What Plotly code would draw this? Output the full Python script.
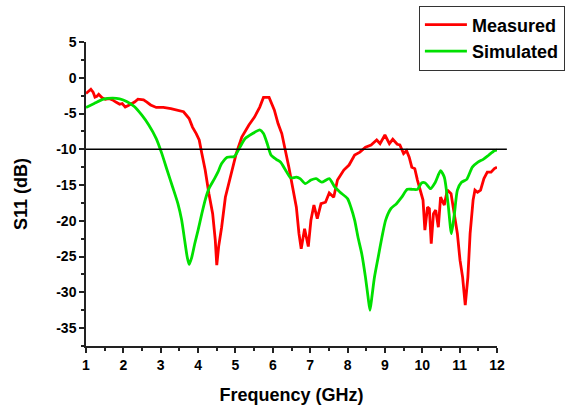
import plotly.graph_objects as go

# Measured S11 (red)
meas_freq = [1.0, 1.06, 1.13, 1.19, 1.24, 1.29, 1.34, 1.43, 1.52, 1.61, 1.71, 1.8, 1.9, 1.97, 2.05, 2.12, 2.2, 2.3, 2.39, 2.54, 2.63, 2.73,
             2.88, 3.07, 3.27, 3.46, 3.61, 3.76, 3.85, 3.95, 4.03, 4.1, 4.19, 4.29, 4.39, 4.46, 4.5, 4.55, 4.63,
             4.73, 4.88, 5.02, 5.17, 5.36, 5.51, 5.65, 5.75, 5.9, 6.04, 6.14, 6.24, 6.34, 6.43, 6.53, 6.63,
             6.7, 6.76, 6.85, 6.95, 7.02, 7.1, 7.19, 7.29, 7.41, 7.51, 7.63, 7.73, 7.9, 8.04, 8.19, 8.33,
             8.48, 8.63, 8.78, 8.87, 9.0, 9.12, 9.21, 9.33, 9.4, 9.5, 9.58, 9.65, 9.72, 9.8, 9.87, 9.95,
             10.02, 10.07, 10.14, 10.19, 10.24, 10.3, 10.36, 10.43, 10.49, 10.59, 10.67, 10.77, 10.85,
             10.94, 11.01, 11.08, 11.15, 11.22, 11.28, 11.36, 11.41, 11.48, 11.56, 11.65, 11.74, 11.84,
             11.93, 12.0]
meas_s11 = [-2.2, -1.9, -1.6, -2.0, -2.7, -2.6, -2.3, -2.8, -3.0, -2.9, -3.1, -3.4, -3.7, -3.6, -4.1, -3.9, -3.7, -3.4, -3.0, -3.1, -3.4, -3.8,
            -4.15, -4.15, -4.3, -4.5, -4.75, -5.7, -6.9, -7.8, -8.7, -10.6, -12.9, -16.2, -19.0, -22.7, -26.2,
            -23.6, -20.9, -16.7, -13.4, -10.6, -8.3, -6.6, -5.5, -4.1, -2.75, -2.75, -4.5, -6.4, -7.8,
            -10.1, -12.5, -15.3, -18.1, -21.8, -23.9, -21.1, -23.6, -19.9, -17.8, -19.7, -17.6, -17.4,
            -16.1, -16.7, -14.3, -12.9, -12.2, -10.8, -10.4, -9.7, -9.4, -8.7, -9.2, -8.0, -9.2, -8.6,
            -9.3, -9.4, -10.6, -10.2, -11.1, -12.5, -12.7, -14.3, -16.0, -17.1, -21.3, -18.1, -18.3,
            -23.2, -19.0, -18.5, -20.9, -16.7, -17.8, -15.7, -16.2, -19.0, -21.8, -25.5, -27.9, -31.8,
            -27.9, -21.8, -17.1, -15.7, -16.0, -15.7, -14.1, -13.2, -13.2, -12.7, -12.5]

# Simulated S11 (green)
sim_freq = [1.0, 1.22, 1.47, 1.71, 1.9, 2.1, 2.3, 2.49, 2.68, 2.88, 3.03, 3.17, 3.32, 3.46, 3.56, 3.64,
            3.71, 3.76, 3.83, 3.91, 4.0, 4.1, 4.2, 4.29, 4.44, 4.53, 4.63, 4.78, 4.97, 5.12, 5.26, 5.46,
            5.65, 5.75, 5.85, 5.95, 6.09, 6.21, 6.34, 6.48, 6.63, 6.73, 6.87, 7.02, 7.16, 7.31, 7.51,
            7.66, 7.8, 8.0, 8.09, 8.19, 8.28, 8.38, 8.48, 8.55, 8.6, 8.65, 8.72, 8.82, 8.92, 9.02, 9.16,
            9.31, 9.45, 9.6, 9.74, 9.87, 9.98, 10.08, 10.22, 10.35, 10.49, 10.59, 10.69, 10.78, 10.86,
            10.94, 11.05, 11.19, 11.34, 11.49, 11.63, 11.78, 11.93, 12.0]
sim_s11 = [-4.15, -3.6, -3.0, -2.85, -2.95, -3.35, -4.05, -5.2, -6.6, -8.5, -10.6, -12.9, -15.3, -17.6,
           -19.9, -22.7, -25.1, -26.1, -25.1, -23.2, -21.3, -19.0, -16.9, -15.5, -14.1, -13.2, -12.0,
           -11.1, -11.0, -9.7, -8.5, -7.8, -7.3, -7.8, -9.2, -10.8, -11.4, -11.8, -12.9, -14.0, -13.9,
           -14.1, -14.8, -14.3, -14.1, -14.6, -14.1, -15.3, -16.0, -16.9, -18.1, -19.9, -22.3, -24.6,
           -27.9, -30.7, -32.5, -30.7, -27.9, -25.1, -22.3, -19.9, -18.3, -17.6, -16.7, -15.6, -15.6,
           -15.6, -14.7, -14.7, -15.5, -14.6, -13.0, -13.9, -17.6, -21.8, -19.0, -15.7, -14.6, -14.2,
           -12.5, -11.8, -11.4, -10.8, -10.2, -10.1]

x_ticks = list(range(1, 13))
y_ticks = [5, 0, -5, -10, -15, -20, -25, -30, -35]
threshold = -10

FONT = "Liberation Sans, Arial, sans-serif"

fig = go.Figure()
fig.add_trace(go.Scatter(x=meas_freq, y=meas_s11, mode="lines", name="<b>Measured</b>",
                         line=dict(color="#ff0000", width=2.8)))
fig.add_trace(go.Scatter(x=sim_freq, y=sim_s11, mode="lines", name="<b>Simulated</b>",
                         line=dict(color="#00e000", width=2.8, shape="spline", smoothing=0.6)))

fig.add_shape(type="line", xref="paper", yref="y", x0=0, x1=1.024, y0=threshold, y1=threshold,
              line=dict(color="black", width=1.5))

axis_common = dict(showgrid=False, zeroline=False, showline=True, linecolor="#222", linewidth=1.5,
                   ticks="outside", ticklen=5, tickwidth=1.5, tickcolor="#222",
                   tickfont=dict(family=FONT, size=14, color="black"))

fig.update_xaxes(range=[1, 12], tickvals=x_ticks, ticktext=[f"<b>{v}</b>" for v in x_ticks],
                 minor=dict(ticks="outside", ticklen=3, dtick=0.5, tick0=1, tickcolor="#222"),
                 title=dict(text="<b>Frequency (GHz)</b>", font=dict(family=FONT, size=18, color="black"),
                            standoff=18),
                 **axis_common)
fig.update_yaxes(range=[-37.5, 5], tickvals=y_ticks, ticktext=[f"<b>{v}</b>" for v in y_ticks],
                 minor=dict(ticks="outside", ticklen=3, dtick=2.5, tick0=0, tickcolor="#222"),
                 title=dict(text="<b>S11 (dB)</b>", font=dict(family=FONT, size=18, color="black"),
                            standoff=24),
                 **axis_common)

fig.update_layout(
    width=569, height=405,
    margin=dict(l=86, r=72, t=42, b=59, autoexpand=False),
    paper_bgcolor="white", plot_bgcolor="white",
    showlegend=True,
    legend=dict(x=0.81, y=1.12, xanchor="left", yanchor="top",
                bordercolor="#333", borderwidth=1, bgcolor="white",
                font=dict(family=FONT, size=18, color="black"),
                itemwidth=42, tracegroupgap=0),
)

fig.write_html("out.html")
